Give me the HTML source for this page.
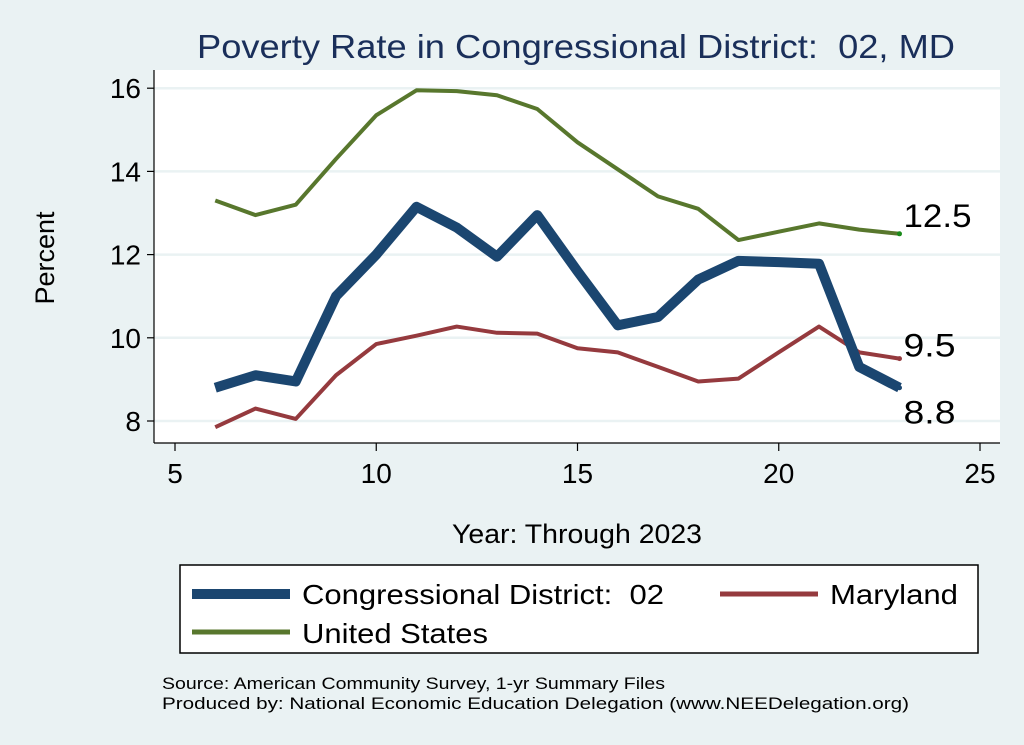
<!DOCTYPE html>
<html><head><meta charset="utf-8"><style>
body{margin:0;background:#eaf2f3;}
svg{display:block;font-family:"Liberation Sans",Arial,sans-serif;}
</style></head><body>
<svg width="1024" height="745" viewBox="0 0 1024 745">
<rect x="0" y="0" width="1024" height="745" fill="#eaf2f3"/>
<text x="197" y="58" font-size="33" fill="#1a2f5a" textLength="758" lengthAdjust="spacingAndGlyphs">Poverty Rate in Congressional District:&#160; 02, MD</text>
<rect x="154" y="70" width="846" height="373" fill="#fff"/>
<g id="grid"></g>
<g id="axes"></g>
<g id="series"></g>
<text x="452" y="543" font-size="27" textLength="250" lengthAdjust="spacingAndGlyphs">Year: Through 2023</text>
<text transform="translate(54,258) rotate(-90)" font-size="27" text-anchor="middle">Percent</text>
<g>
<rect x="180" y="565" width="798" height="88" fill="#fff" stroke="#000" stroke-width="1.5"/>
<g><line x1="192" y1="594" x2="290" y2="594" stroke="#1b4670" stroke-width="10"/><text x="302" y="604" font-size="28" textLength="362" lengthAdjust="spacingAndGlyphs">Congressional District:&#160; 02</text></g>
<g><line x1="720" y1="594" x2="818" y2="594" stroke="#953a3e" stroke-width="5"/><text x="830" y="604" font-size="28" textLength="128" lengthAdjust="spacingAndGlyphs">Maryland</text></g>
<g><line x1="192" y1="632" x2="290" y2="632" stroke="#58772d" stroke-width="5"/><text x="302" y="643" font-size="28" textLength="186" lengthAdjust="spacingAndGlyphs">United States</text></g>
</g>
<text x="162" y="689" font-size="17" textLength="503" lengthAdjust="spacingAndGlyphs">Source: American Community Survey, 1-yr Summary Files</text>
<text x="162" y="709" font-size="17" textLength="747" lengthAdjust="spacingAndGlyphs">Produced by: National Economic Education Delegation (www.NEEDelegation.org)</text>
</svg>
<script>
const years=[6,7,8,9,10,11,12,13,14,15,16,17,18,19,20,21,22,23];
const cdValues=[8.8,9.1,8.95,11.0,12.0,13.15,12.65,11.95,12.95,11.6,10.3,10.5,11.4,11.85,11.82,11.78,9.3,8.8];
const mdValues=[7.85,8.3,8.05,9.1,9.85,10.05,10.27,10.12,10.1,9.75,9.65,9.3,8.95,9.02,9.65,10.27,9.65,9.5];
const usValues=[13.3,12.95,13.2,14.3,15.35,15.95,15.93,15.83,15.5,14.7,14.05,13.4,13.1,12.35,12.55,12.75,12.6,12.5];
const xTicks=[5,10,15,20,25];
const yTicks=[8,10,12,14,16];
const NS="http://www.w3.org/2000/svg";
function X(v){return 175+(v-5)*40.25;}
function Y(v){return 421-(v-8)*41.6;}
function mk(t,a,p){const e=document.createElementNS(NS,t);for(const k in a)e.setAttribute(k,a[k]);p.appendChild(e);return e;}
const grid=document.getElementById('grid'),axes=document.getElementById('axes'),ser=document.getElementById('series');
yTicks.forEach(v=>{
 const g=mk('line',{x1:154,x2:1000,y1:Y(v),y2:Y(v),stroke:'#eaf2f3','stroke-width':2.5},grid);
 
 
 const t=mk('line',{x1:147,x2:154,y1:Y(v),y2:Y(v),stroke:'#000','stroke-width':1.2},axes);
 
 
 const l=mk('text',{x:141,y:Y(v)+10,'font-size':28,'text-anchor':'end'},axes);
 l.textContent=v;
 
 
});
xTicks.forEach(v=>{
 const t=mk('line',{x1:X(v),x2:X(v),y1:443,y2:451,stroke:'#000','stroke-width':1.2},axes);
 
 
 const l=mk('text',{x:X(v),y:483,'font-size':28,'text-anchor':'middle'},axes);
 l.textContent=v;
 
 
});
const ya=mk('line',{x1:154,x2:154,y1:70,y2:443,stroke:'#000','stroke-width':1.2},axes);


const xa=mk('line',{x1:154,x2:1000,y1:443,y2:443,stroke:'#000','stroke-width':1.2},axes);


function line(vals,color,w,name,labelDy){
 const pts=years.map((y,i)=>X(y)+','+Y(vals[i])).join(' ');
 const p=mk('polyline',{points:pts,fill:'none',stroke:color,'stroke-width':w,'stroke-linejoin':'round'},ser);
 
 
 const last=vals[vals.length-1],lx=X(years[years.length-1]);
 const d=mk('circle',{cx:lx,cy:Y(last),r:2.5,fill:name==='us'?'#1a8a1a':color},ser);
 
 
 const t=mk('text',{x:lx+4,y:Y(last)+labelDy,'font-size':32,textLength:68,lengthAdjust:'spacingAndGlyphs'},ser);
 t.textContent=last.toFixed(1);
 if(last<10)t.setAttribute('textLength','52');
 
 
}
line(usValues,'#58772d',4,'us',-7);
line(mdValues,'#953a3e',4,'md',-2);
line(cdValues,'#1b4670',10,'cd',36);
</script>
</body></html>
